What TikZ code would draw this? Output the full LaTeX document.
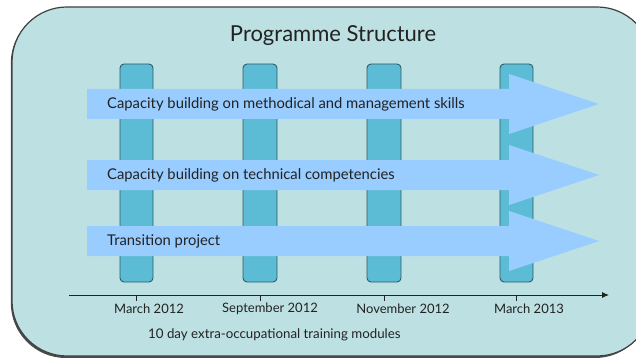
\documentclass[tikz,border=0pt]{standalone}
\usepackage{fontspec}
\setmainfont{Lato}
\usetikzlibrary{arrows.meta}
\definecolor{panel}{HTML}{BDE1E3}
\definecolor{barfill}{HTML}{5DBCD5}
\definecolor{bardraw}{HTML}{2E5A62}
\definecolor{arrowfill}{HTML}{99CCFF}
\definecolor{ink}{HTML}{222222}
\begin{document}
\begin{tikzpicture}[x=1pt,y=-1pt,
  panelbox/.style={fill=panel,draw=black!75,line width=1.2pt,rounded corners=55pt},
  bar/.style={fill=barfill,draw=bardraw,line width=0.9pt,rounded corners=4pt},
  band/.style={fill=arrowfill,draw=none},
  bandtext/.style={anchor=west,text=ink,font=\fontsize{14.8}{16}\selectfont,inner sep=0pt},
  datelabel/.style={anchor=center,text=ink,font=\fontsize{13}{15}\selectfont,inner sep=0pt},
  tick/.style={draw=ink,line width=0.8pt},
  axis/.style={draw=ink,line width=0.9pt,-{Latex[length=7pt,width=6pt]}}]
\useasboundingbox (0,0) rectangle (636,358);
\begin{scope}
\clip (0,0) rectangle (636,358);
\fill[black!70,rounded corners=55pt] (10.8,8.2) rectangle (650,358);
\path[panelbox] (12,7) rectangle (652,356);
\end{scope}
\node[text=ink,font=\fontsize{22}{25}\selectfont,inner sep=0pt] (title) at (333,36) {Programme Structure};
% bars
\path[bar] (120,64) rectangle (153,282);
\path[bar] (243,64) rectangle (277,282);
\path[bar] (367,64) rectangle (401,282);
\path[bar] (500,64) rectangle (533,282);
\coordinate (b1) at (136.5,295);
\coordinate (b2) at (260,295);
\coordinate (b3) at (384,295);
\coordinate (b4) at (516.5,295);
% arrows
\foreach \c in {104,175,241}{
  \path[band] (87,\c-15) -- (509,\c-15) -- (509,\c-30) -- (599,\c) -- (509,\c+30) -- (509,\c+15) -- (87,\c+15) -- cycle;
}
\node[bandtext] (t1) at (107,104) {Capacity building on methodical and management skills};
\node[bandtext] (t2) at (107,175) {Capacity building on technical competencies};
\node[bandtext] (t3) at (107,241) {Transition project};
% axis
\coordinate (axstart) at (69,295);
\coordinate (axend) at (609,295);
\draw[axis] (axstart) -- (axend);
\foreach \b in {b1,b2,b3,b4}{\draw[tick] (\b) -- ++(0,6);}
\node[datelabel] (d1) at (149,309) {March 2012};
\node[datelabel] (d2) at (270,309) {September 2012};
\node[datelabel] (d3) at (403,309) {November 2012};
\node[datelabel] (d4) at (529,309) {March 2013};
\node[anchor=west,text=ink,font=\fontsize{13.3}{15}\selectfont,inner sep=0pt] (foot) at (148,335) {10 day extra-occupational training modules};
\end{tikzpicture}
\end{document}
